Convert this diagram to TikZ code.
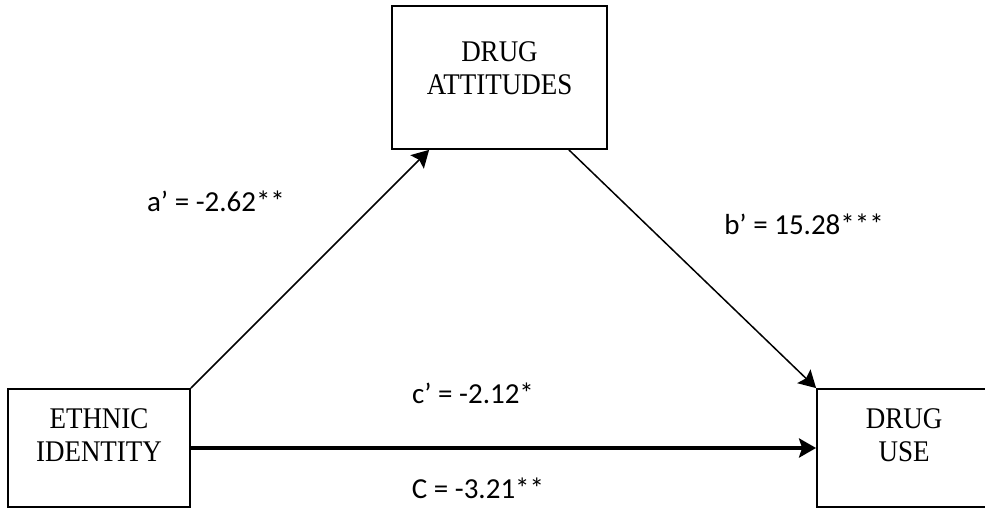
\documentclass[tikz,border=0pt]{standalone}
\usepackage{fontspec}
\setmainfont{Liberation Serif}[FakeStretch=0.9]
\newfontfamily\lblfont{Carlito}
\usetikzlibrary{arrows.meta,positioning}

\begin{document}
\begin{tikzpicture}[x=1pt, y=1pt,
    varbox/.style={draw, line width=1.8pt, inner sep=0pt},
    vartext/.style={align=center, font=\fontsize{30}{33}\selectfont, inner sep=0pt},
    coef/.style={anchor=base, font=\lblfont\fontsize{29}{33}\selectfont, inner sep=0pt},
    arr/.style={-{Stealth[length=17pt, width=19pt, inset=3pt]}, line width=1.5pt},
]
\useasboundingbox (0,0) rectangle (985,509);
% variables
\node[varbox, minimum width=182pt, minimum height=118pt] (ethnic) at (99,61) {};
\node[vartext] (ethnictxt) at (99,74) {ETHNIC\\IDENTITY};
\node[varbox, minimum width=215pt, minimum height=143pt] (attitudes) at (499.5,431.5) {};
\node[vartext] (attitudestxt) at (499.5,441) {DRUG\\ATTITUDES};
\node[varbox, minimum width=174pt, minimum height=118pt] (druguse) at (904,61) {};
\node[vartext] (drugusetxt) at (904,74) {DRUG\\USE};

% paths
\draw[arr] (ethnic.north east) -- ([xshift=38pt]attitudes.south west);
\draw[arr] ([xshift=-39pt]attitudes.south east) -- (druguse.north west);
\draw[arr, line width=3.5pt] (ethnic.east) -- (druguse.west);

% coefficients
\node[coef] (apath) at (216,297) {a’ = -2.62**};
\node[coef] (bpath) at (804,274) {b’ = 15.28***};
\node[coef] (cprime) at (473,106) {c’ = -2.12*};
\node[coef] (ctotal) at (478,11) {C = -3.21**};
\end{tikzpicture}
\end{document}
